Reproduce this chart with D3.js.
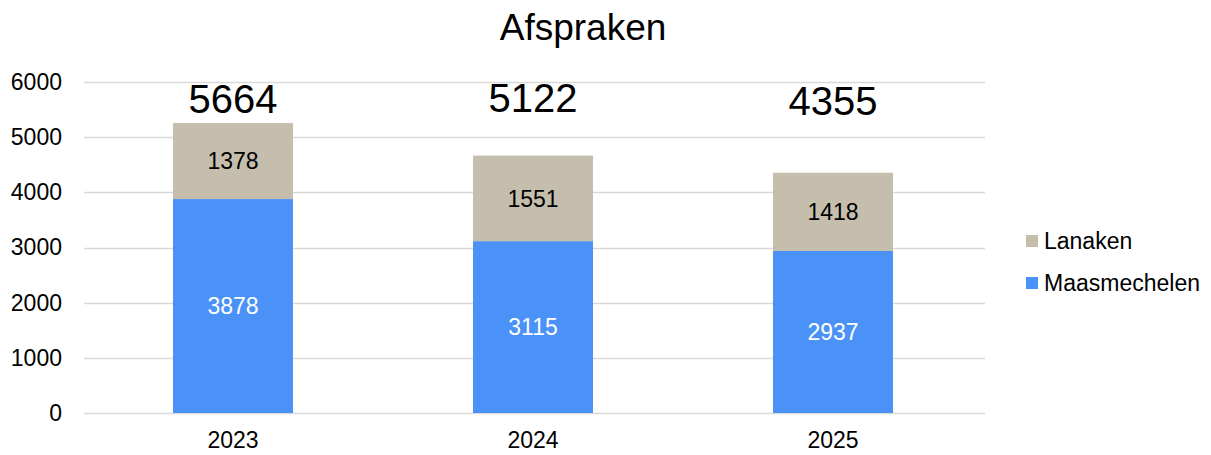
<!DOCTYPE html>
<html><head><meta charset="utf-8">
<script src="https://cdn.jsdelivr.net/npm/d3@7"></script>
<style>body{margin:0;background:#fff}svg{display:block;font-family:"Liberation Sans",Arial,sans-serif}</style>
</head><body><svg id="c" width="1211" height="455"></svg>
<script>
const categories = ["2023", "2024", "2025"];
const maasmechelen = [3878, 3115, 2937];
const lanaken = [1378, 1551, 1418];
const totals = [5664, 5122, 4355];
const yTicks = [0, 1000, 2000, 3000, 4000, 5000, 6000];
const seriesNames = ["Maasmechelen", "Lanaken"];
const colors = {Maasmechelen: "#4a92f8", Lanaken: "#c5bead"};

const svg = d3.select("#c");
const x = d3.scaleBand().domain(categories).range([83, 983]).paddingInner(0.6).paddingOuter(0.3);
const y = d3.scaleLinear().domain([0, 6000]).range([413, 82]);
const FONT = "Liberation Sans, Arial, sans-serif";

// gridlines
svg.append("g").selectAll("line").data(yTicks).join("line")
  .attr("x1", 84).attr("x2", 985)
  .attr("y1", d => Math.round(y(d)) + 0.5).attr("y2", d => Math.round(y(d)) + 0.5)
  .attr("stroke", "#d9d9d9").attr("stroke-width", 1.3);

// y axis labels
const yAxis = d3.axisLeft(y).tickValues(yTicks).tickSize(0).tickPadding(0).tickFormat(d3.format("d"));
const ga = svg.append("g").attr("transform", "translate(62,0)").call(yAxis);
ga.select(".domain").remove();
ga.selectAll("text").attr("font-size", 23).attr("fill", "#000").attr("font-family", FONT);

// x axis labels
const xAxis = d3.axisBottom(x).tickSize(0).tickPadding(0);
const gx = svg.append("g").attr("transform", "translate(0,432)").call(xAxis);
gx.select(".domain").remove();
gx.selectAll("text").attr("font-size", 23).attr("fill", "#000").attr("font-family", FONT);

// stacked data
const rows = categories.map((c, i) => ({cat: c, Maasmechelen: maasmechelen[i], Lanaken: lanaken[i]}));
const stack = d3.stack().keys(seriesNames)(rows);

const layers = svg.append("g").selectAll("g").data(stack).join("g")
  .attr("fill", d => colors[d.key]);
layers.selectAll("rect").data(d => d).join("rect")
  .attr("x", d => x(d.data.cat)).attr("width", x.bandwidth())
  .attr("y", d => y(d[1])).attr("height", d => y(d[0]) - y(d[1]));

// segment labels
stack.forEach(layer => {
  svg.append("g").selectAll("text").data(layer).join("text")
    .attr("x", d => x(d.data.cat) + x.bandwidth() / 2)
    .attr("y", d => (y(d[0]) + y(d[1])) / 2)
    .attr("dy", "0.36em")
    .attr("text-anchor", "middle").attr("font-size", 23)
    .attr("fill", layer.key === "Maasmechelen" ? "#fff" : "#000")
    .text(d => d.data[layer.key]);
});

// total labels
const totalBase = [113, 112, 115];
svg.append("g").selectAll("text").data(totals).join("text")
  .attr("x", (d, i) => x(categories[i]) + x.bandwidth() / 2)
  .attr("y", (d, i) => totalBase[i])
  .attr("text-anchor", "middle").attr("font-size", 40).attr("fill", "#000")
  .text(d => d);

// title
svg.append("text").attr("x", 583).attr("y", 40).attr("text-anchor", "middle")
  .attr("font-size", 37).attr("fill", "#000").text("Afspraken");

// legend
const legendItems = ["Lanaken", "Maasmechelen"];
const lg = svg.append("g").selectAll("g").data(legendItems).join("g")
  .attr("transform", (d, i) => `translate(1026,${241 + i * 42})`);
lg.append("rect").attr("x", 0).attr("y", -6).attr("width", 12).attr("height", 12).attr("fill", d => colors[d]);
lg.append("text").attr("x", 18).attr("y", 0).attr("dy", "0.36em").attr("font-size", 23).attr("fill", "#000").text(d => d);
</script></body></html>
